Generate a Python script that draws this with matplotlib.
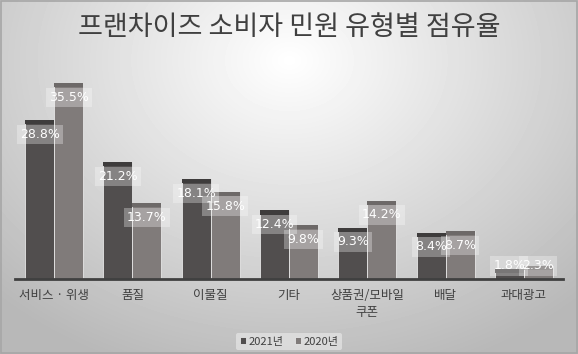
import matplotlib.pyplot as plt
import numpy as np

plt.rcParams['font.family'] = ['Noto Sans CJK KR', 'DejaVu Sans']

categories = ['서비스 · 위생', '품질', '이물질', '기타', '상품권/모바일\n쿠폰', '배달', '과대광고']
share_2021 = [28.8, 21.2, 18.1, 12.4, 9.3, 8.4, 1.8]
share_2020 = [35.5, 13.7, 15.8, 9.8, 14.2, 8.7, 2.3]
series_names = ['2021년', '2020년']

fig = plt.figure(figsize=(5.78, 3.54), dpi=100)

# radial gray background
bg = fig.add_axes([0, 0, 1, 1], zorder=-10)
yy, xx = np.mgrid[0:354, 0:578]
r = np.sqrt(((xx - 289) / 420.0) ** 2 + ((yy - 60) / 330.0) ** 2)
shade = np.clip(1.0 - 0.28 * r, 0.72, 1.0)
bg.imshow(shade, cmap='gray', vmin=0, vmax=1, aspect='auto', extent=[0, 1, 0, 1])
bg.axis('off')
fig.patches.append(plt.Rectangle((0.0015, 0.0015), 0.997, 0.997, transform=fig.transFigure,
                                 fill=False, ec='#a6a6a6', lw=1.2))

ax = fig.add_axes([0.026, 0.212, 0.948, 0.624])
ax.patch.set_alpha(0)
x = np.arange(len(categories))
w = 0.37
body = ['#514e4e', '#807b7a']
cap = ['#3e3c3c', '#6d6968']

for i, vals in enumerate([share_2021, share_2020]):
    pos = x + (i - 0.5) * w
    vals = np.array(vals)
    ax.bar(pos, vals, w, color=body[i], edgecolor='#e6e6e6', lw=0.6, label=series_names[i], zorder=2)
    ax.bar(pos, np.minimum(0.75, vals), w, bottom=vals - np.minimum(0.75, vals),
           color=cap[i], edgecolor='none', zorder=3)
    for p, v in zip(pos, vals):
        ax.text(p, max(v - 2.6, 2.35), f'{v}%', ha='center', va='center', color='white', fontsize=9,
                family=['DejaVu Sans'], zorder=5,
                bbox=dict(boxstyle='square,pad=0.25', fc='white', ec='none', alpha=0.3))

ax.set_xlim(-0.5, len(categories) - 0.5)
ax.set_ylim(0, 40)
ax.set_yticks([])
ax.set_xticks(x)
ax.set_xticklabels(categories, fontsize=9, color='#404040', linespacing=1.45)
ax.tick_params(axis='x', length=0, pad=7)
for side in ['top', 'right', 'left']:
    ax.spines[side].set_visible(False)
ax.spines['bottom'].set_color('#404040')
ax.spines['bottom'].set_linewidth(2)

fig.text(0.5, 0.921, '프랜차이즈 소비자 민원 유형별 점유율', ha='center', va='center',
         fontsize=19.5, color='#404040')

leg = fig.legend(loc='center', bbox_to_anchor=(0.5, 0.035), ncol=2, fontsize=8,
                 frameon=True, handlelength=0.6, handleheight=0.6, handletextpad=0.2,
                 columnspacing=1.0, borderpad=0.3)
leg.get_frame().set_facecolor('#e6e6e6')
leg.get_frame().set_edgecolor('none')
leg.get_frame().set_alpha(0.7)
for t in leg.get_texts():
    t.set_color('#404040')

fig.savefig('out.png', dpi=100)
